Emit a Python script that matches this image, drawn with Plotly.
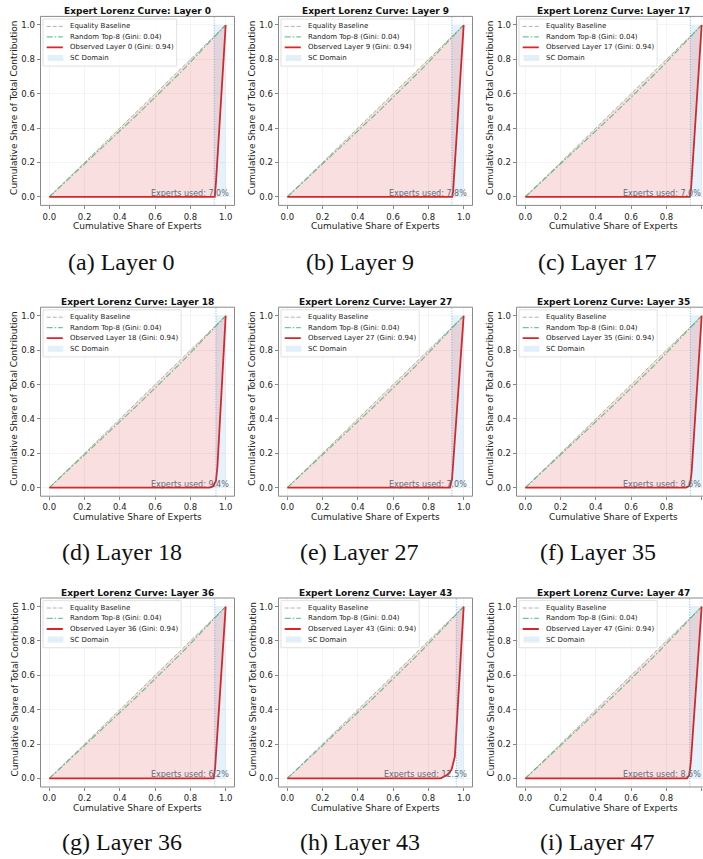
import plotly.graph_objects as go

# ---------------- data ----------------
layers = [0, 9, 17, 18, 27, 35, 36, 43, 47]
panel_letters = ["a", "b", "c", "d", "e", "f", "g", "h", "i"]
experts_used_pct = [7.0, 7.8, 7.0, 9.4, 7.0, 8.6, 6.2, 12.5, 8.6]
gini_observed = [0.94, 0.94, 0.94, 0.94, 0.94, 0.94, 0.94, 0.94, 0.94]
gini_random = [0.04, 0.04, 0.04, 0.04, 0.04, 0.04, 0.04, 0.04, 0.04]
sc_domain_start = [0.935, 0.933, 0.936, 0.945, 0.933, 0.936, 0.938, 0.958, 0.932]

observed_x = {
    0: [0.0, 0.938, 0.945, 1.0],
    9: [0.0, 0.935, 0.940, 1.0],
    17: [0.0, 0.933, 0.940, 1.0],
    18: [0.0, 0.910, 0.930, 0.945, 0.953, 1.0],
    27: [0.0, 0.922, 0.934, 1.0],
    35: [0.0, 0.912, 0.928, 0.936, 0.943, 1.0],
    36: [0.0, 0.932, 0.940, 1.0],
    43: [0.0, 0.869, 0.906, 0.931, 0.950, 1.0],
    47: [0.0, 0.917, 0.930, 0.939, 1.0],
}
observed_y = {
    0: [0.0, 0.0, 0.085, 1.0],
    9: [0.0, 0.0, 0.030, 1.0],
    17: [0.0, 0.0, 0.050, 1.0],
    18: [0.0, 0.0, 0.008, 0.040, 0.120, 1.0],
    27: [0.0, 0.0, 0.050, 1.0],
    35: [0.0, 0.0, 0.008, 0.033, 0.090, 1.0],
    36: [0.0, 0.0, 0.060, 1.0],
    43: [0.0, 0.0, 0.020, 0.050, 0.127, 1.0],
    47: [0.0, 0.0, 0.020, 0.100, 1.0],
}

equality_x = [0.0, 1.0]
equality_y = [0.0, 1.0]
random_x = [0.0, 0.25, 0.5, 0.75, 1.0]
random_y = [0.0, 0.238, 0.480, 0.730, 1.0]

tick_vals = [0.0, 0.2, 0.4, 0.6, 0.8, 1.0]
tick_text = ["0.0", "0.2", "0.4", "0.6", "0.8", "1.0"]

# ---------------- style / layout ----------------
W, H = 703, 859
FONT = "DejaVu Sans"
SERIF = "Liberation Serif"
AX_LEFT0, COL_STEP, AX_W = 40.5, 238.0, 194.0
AX_TOP0, ROW_STEP, AX_H = 16.4, 290.8, 189.0
CAP_X0, CAP_Y0, CAP_ROW = 121.7, 261.5, 290.3
LO, HI = -0.05, 1.05

RED = "#d62728"
RED_FILL = "rgba(214,39,40,0.15)"
GREEN = "rgba(60,179,113,0.75)"
GRAY = "rgba(128,128,128,0.6)"
SC_FILL = "rgba(52,152,219,0.12)"
SC_LINE = "rgba(52,152,219,0.65)"
TXT = "#5d6d7e"

fig = go.Figure()
layout = dict(
    width=W, height=H, margin=dict(l=0, r=0, t=0, b=0),
    paper_bgcolor="white", plot_bgcolor="white", showlegend=False,
    font=dict(family=FONT, color="#222"),
)
annotations = []
shapes = []


def fx(f):
    """axes fraction -> data coordinate"""
    return LO + f * (HI - LO)


for i, layer in enumerate(layers):
    r, c = divmod(i, 3)
    left = AX_LEFT0 + c * COL_STEP
    right = left + AX_W
    top = AX_TOP0 + r * ROW_STEP
    bottom = top + AX_H
    vis_right = min(right, W)
    x_end = LO + (vis_right - left) / AX_W * (HI - LO)
    n = "" if i == 0 else str(i + 1)
    xa, ya = "x" + n, "y" + n

    common = dict(
        tickvals=tick_vals, ticktext=tick_text, ticks="outside", ticklen=3,
        tickwidth=0.8, tickcolor="#666", showgrid=True, gridcolor="#ececec",
        gridwidth=0.6, zeroline=False, showline=False,
        tickfont=dict(size=8.5, color="#222", family=FONT), fixedrange=True,
    )
    layout["xaxis" + n] = dict(domain=[left / W, vis_right / W], range=[LO, x_end],
                               anchor=ya, **common)
    layout["yaxis" + n] = dict(domain=[1 - bottom / H, 1 - top / H], range=[LO, HI],
                               anchor=xa, **common)

    s = sc_domain_start[i]
    ox, oy = observed_x[layer], observed_y[layer]

    # SC domain span
    fig.add_trace(go.Scatter(
        x=[s, 1.0, 1.0, s, s], y=[0.0, 0.0, 1.0, 1.0, 0.0], xaxis=xa, yaxis=ya,
        mode="lines", fill="toself", fillcolor=SC_FILL, line=dict(width=0),
        hoverinfo="skip"))
    # inequality fill between equality line and Lorenz curve
    fig.add_trace(go.Scatter(
        x=ox + [0.0], y=oy + [0.0], xaxis=xa, yaxis=ya, mode="lines",
        fill="toself", fillcolor=RED_FILL, line=dict(width=0), hoverinfo="skip"))
    # equality
    fig.add_trace(go.Scatter(
        x=equality_x, y=equality_y, xaxis=xa, yaxis=ya, mode="lines",
        line=dict(color=GRAY, width=1, dash="4px,2px")))
    # random top-8
    fig.add_trace(go.Scatter(
        x=random_x, y=random_y, xaxis=xa, yaxis=ya, mode="lines",
        line=dict(color=GREEN, width=1.2, dash="6px,2px,1.5px,2px")))
    # observed
    fig.add_trace(go.Scatter(
        x=ox, y=oy, xaxis=xa, yaxis=ya, mode="lines",
        line=dict(color=RED, width=1.8)))

    # SC boundary dotted line
    shapes.append(dict(type="line", xref=xa, yref=ya + " domain", x0=s, x1=s,
                       y0=0, y1=1, line=dict(color=SC_LINE, width=1, dash="1px,1.6px")))

    # frame: the right column is cut by the window edge, so clamp it
    shapes.append(dict(type="rect", xref="paper", yref="paper",
                       x0=left / W, x1=min(right, W + 2) / W,
                       y0=1 - bottom / H, y1=1 - top / H,
                       line=dict(color="#8a8a8a", width=1), layer="above"))

    # title
    annotations.append(dict(
        text=f"<b>Expert Lorenz Curve: Layer {layer}</b>", xref="paper",
        x=(left + AX_W / 2) / W, yref="paper", y=1 - (top - 5.2) / H,
        xanchor="center", yanchor="middle",
        showarrow=False, font=dict(size=9, family=FONT, color="#111")))
    # axis titles
    annotations.append(dict(
        text="Cumulative Share of Experts", xref="paper", x=(left + AX_W / 2) / W,
        yref="paper", y=1 - (bottom + 20.5) / H, xanchor="center", yanchor="middle",
        showarrow=False, font=dict(size=9, family=FONT, color="#222")))
    annotations.append(dict(
        text="Cumulative Share of Total Contribution", xref="paper",
        x=(left - 26.5) / W, yref="paper", y=1 - (top + AX_H / 2 - 3) / H,
        xanchor="center", yanchor="middle", textangle=-90, showarrow=False,
        font=dict(size=9, family=FONT, color="#222")))
    # experts used text (kept inside the window in the last column)
    annotations.append(dict(
        text=f"Experts used: {experts_used_pct[i]:.1f}%", xref="paper",
        x=min(left + 0.98 * AX_W, W - 0.5) / W, yref="paper",
        y=1 - (bottom - 0.03 * AX_H) / H,
        xanchor="right", yanchor="bottom", showarrow=False,
        font=dict(size=8, family=FONT, color=TXT)))

    # legend (drawn manually to keep matplotlib-like compact spacing)
    box_r = 0.702 + 0.023 * (len(str(layer)) - 1)
    shapes.append(dict(type="rect", xref=xa, yref=ya, x0=fx(0.013), x1=fx(box_r),
                       y0=fx(0.737), y1=fx(0.986),
                       line=dict(color="#d9d9d9", width=0.8),
                       fillcolor="rgba(255,255,255,0.8)", layer="above"))
    labels = ["Equality Baseline",
              f"Random Top-8 (Gini: {gini_random[i]:.2f})",
              f"Observed Layer {layer} (Gini: {gini_observed[i]:.2f})",
              "SC Domain"]
    rows = [0.947, 0.892, 0.836, 0.780]
    handle_styles = [dict(color=GRAY, width=1, dash="4px,2px"),
                     dict(color=GREEN, width=1.2, dash="6px,2px,1.5px,2px"),
                     dict(color=RED, width=1.8)]
    for k, (lab, ry) in enumerate(zip(labels, rows)):
        if k < 3:
            shapes.append(dict(type="line", xref=xa, yref=ya, x0=fx(0.032),
                               x1=fx(0.115), y0=fx(ry), y1=fx(ry),
                               line=handle_styles[k], layer="above"))
        else:
            shapes.append(dict(type="rect", xref=xa, yref=ya, x0=fx(0.037),
                               x1=fx(0.118), y0=fx(ry - 0.016), y1=fx(ry + 0.016),
                               line=dict(width=0), fillcolor="rgba(52,152,219,0.14)",
                               layer="above"))
        annotations.append(dict(
            text=lab, xref=xa, x=fx(0.14), yref=ya, y=fx(ry), xanchor="left",
            yanchor="middle", showarrow=False,
            font=dict(size=7, family=FONT, color="#222")))

    # sub-figure caption
    annotations.append(dict(
        text=f"({panel_letters[i]}) Layer {layer}", xref="paper",
        x=(CAP_X0 + c * COL_STEP) / W, yref="paper", y=1 - (CAP_Y0 + r * CAP_ROW) / H,
        xanchor="center", yanchor="middle", showarrow=False,
        font=dict(size=24, family=SERIF, color="#111")))

layout["annotations"] = annotations
layout["shapes"] = shapes
fig.update_layout(**layout)
# remove the browser's default 8px body margin so the figure fills the window
fig.write_html("out.html",
               config={"displayModeBar": False, "staticPlot": True},
               post_script="document.body.style.margin='0';"
                           "document.body.style.overflow='hidden';")
